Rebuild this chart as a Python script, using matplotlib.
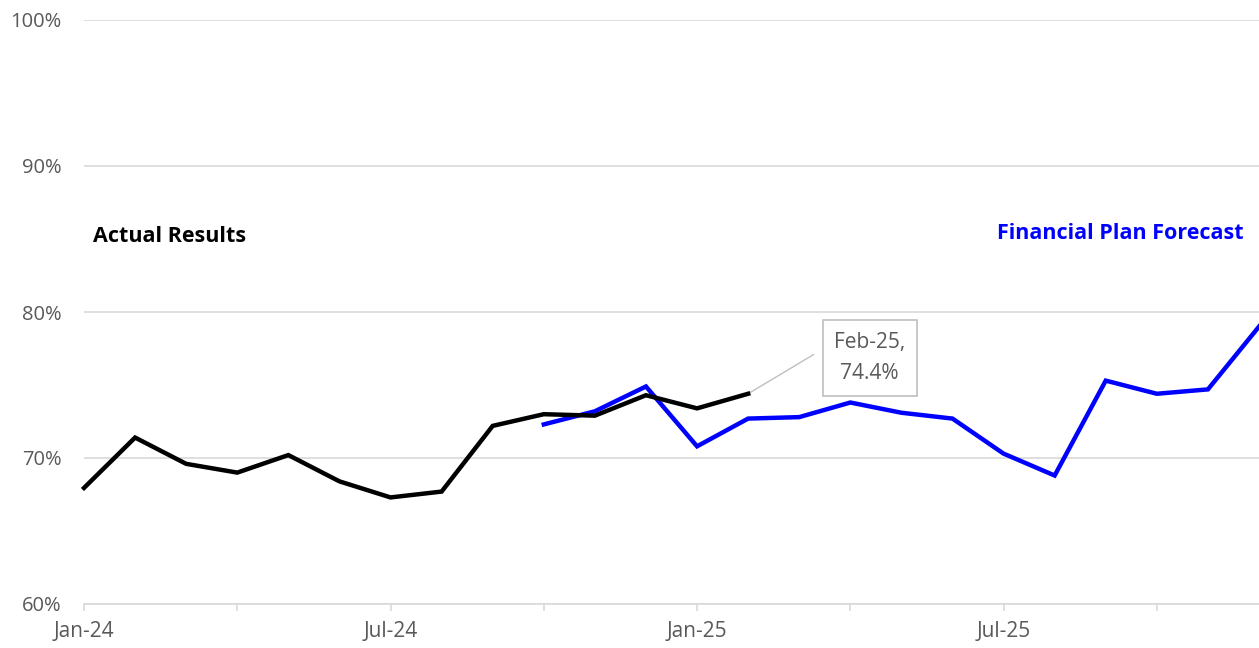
import matplotlib.pyplot as plt
import numpy as np

months = ['Jan-24', 'Feb-24', 'Mar-24', 'Apr-24', 'May-24', 'Jun-24', 'Jul-24', 'Aug-24',
          'Sep-24', 'Oct-24', 'Nov-24', 'Dec-24', 'Jan-25', 'Feb-25', 'Mar-25', 'Apr-25',
          'May-25', 'Jun-25', 'Jul-25', 'Aug-25', 'Sep-25', 'Oct-25', 'Nov-25', 'Dec-25']

# actual results, Jan-24 .. Feb-25
actual = [67.95, 71.4, 69.6, 69.0, 70.2, 68.4, 67.3, 67.7, 72.2, 73.0, 72.9, 74.3, 73.4, 74.4]
# financial plan forecast, Oct-24 .. Dec-25
forecast = [72.3, 73.2, 74.9, 70.8, 72.7, 72.8, 73.8, 73.1, 72.7, 70.3, 68.8, 75.3, 74.4, 74.7, 79.0]
forecast_start = 9

tick_pos = [0, 3, 6, 9, 12, 15, 18, 21]
tick_labels = ['Jan-24', '', 'Jul-24', '', 'Jan-25', '', 'Jul-25', '']
y_ticks = [60, 70, 80, 90, 100]

plt.rcParams['font.family'] = ['Open Sans', 'DejaVu Sans']

fig = plt.figure(figsize=(12.59, 6.48), dpi=100)
ax = fig.add_axes([84 / 1259, 44 / 648, 1 - 84 / 1259, 584 / 648])

x_act = np.arange(len(actual))
x_fc = np.arange(forecast_start, forecast_start + len(forecast))

ax.plot(x_fc, forecast, color='#0000ff', lw=3.2, solid_joinstyle='miter', zorder=3, clip_on=False)
ax.plot(x_act, actual, color='black', lw=3.2, solid_joinstyle='miter', zorder=4, clip_on=False)

ax.set_xlim(0, len(months) - 1)
ax.set_ylim(60, 100)
ax.set_yticks(y_ticks)
ax.set_yticklabels([f'{v}%' for v in y_ticks])
ax.set_xticks(tick_pos)
ax.set_xticklabels(tick_labels)

ax.grid(axis='y', color='#d9d9d9', lw=1.2)
ax.set_axisbelow(True)
for s in ['top', 'right', 'left']:
    ax.spines[s].set_visible(False)
ax.spines['bottom'].set_color('#d9d9d9')
ax.spines['bottom'].set_linewidth(1.2)
ax.tick_params(axis='y', length=0, pad=16, labelsize=14.5, labelcolor='#595959')
ax.tick_params(axis='x', length=5, width=1.2, color='#d9d9d9', pad=7,
               labelsize=15, labelcolor='#595959')

ax.text(0.18, 85.2, 'Actual Results', fontsize=15.5, fontweight='bold', color='black',
        ha='left', va='center')
ax.text(22.7, 85.4, 'Financial Plan Forecast', fontsize=15.5, fontweight='bold',
        color='#0000ff', ha='right', va='center')

last = len(actual) - 1
ax.annotate(f'{months[last]},\n{actual[last]:.1f}%', xy=(last, actual[last]),
            xytext=(last + 2.38, actual[last] + 2.45), ha='center', va='center',
            fontsize=15, color='#595959', linespacing=1.65,
            bbox=dict(boxstyle='square,pad=0.55', fc='white', ec='#bfbfbf', lw=1.2),
            arrowprops=dict(arrowstyle='-', color='#bfbfbf', lw=1, shrinkA=7, shrinkB=0,
                            relpos=(0, 0.8)))

fig.savefig('out.png', dpi=100)
